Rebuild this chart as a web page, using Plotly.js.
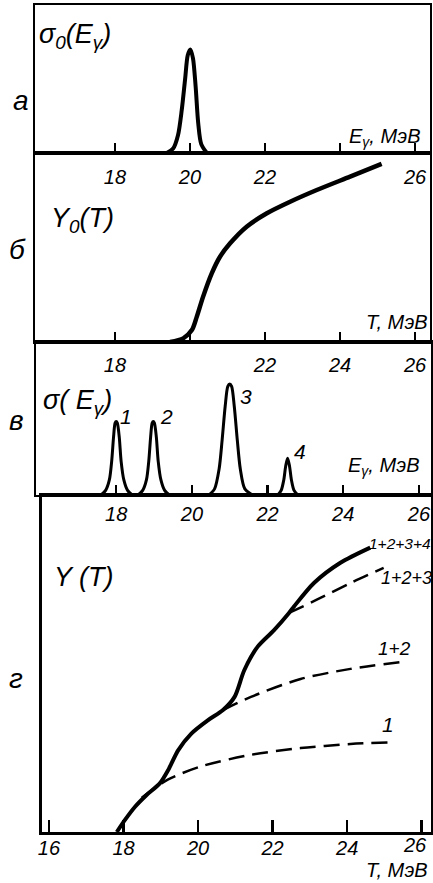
<!DOCTYPE html>
<html><head><meta charset="utf-8">
<script src="https://cdn.plot.ly/plotly-3.0.1.min.js"></script>
<style>html,body{margin:0;padding:0;background:#fff;overflow:hidden}</style>
</head><body><div id="chart" style="width:433px;height:883px"></div>
<script>
// ---- data ----
// panel а: sigma0(E_gamma)
const aX = [19.38, 19.55, 19.68, 19.78, 19.87, 19.94, 20.01, 20.08, 20.15, 20.22, 20.3, 20.45];
const aY = [0, 0.03, 0.12, 0.29, 0.5, 0.66, 0.70, 0.64, 0.45, 0.2, 0.06, 0];
// panel б: Y0(T)
const bX = [19.47, 19.82, 20.05, 20.18, 20.35, 20.58, 20.8, 21.07, 21.51, 22.05, 22.67, 23.38, 24.27, 25.11];
const bY = [0, 0.019, 0.063, 0.133, 0.24, 0.363, 0.451, 0.522, 0.61, 0.681, 0.742, 0.804, 0.875, 0.942];
// panel в: sigma(E_gamma), four levels
const c1X = [17.6, 17.72, 17.82, 17.88, 17.93, 17.97, 18.0, 18.03, 18.08, 18.13, 18.2, 18.3, 18.42];
const c1Y = [0, 0.03, 0.1, 0.22, 0.38, 0.47, 0.48, 0.47, 0.38, 0.22, 0.1, 0.03, 0];
const c2X = [18.58, 18.7, 18.8, 18.86, 18.91, 18.95, 18.98, 19.01, 19.06, 19.11, 19.18, 19.28, 19.4];
const c2Y = [0, 0.03, 0.1, 0.22, 0.38, 0.47, 0.48, 0.47, 0.38, 0.22, 0.1, 0.03, 0];
const c3X = [20.45, 20.6, 20.72, 20.8, 20.88, 20.95, 21.0, 21.05, 21.12, 21.2, 21.28, 21.4, 21.6];
const c3Y = [0, 0.04, 0.17, 0.36, 0.58, 0.71, 0.725, 0.71, 0.58, 0.36, 0.17, 0.04, 0];
const c4X = [22.27, 22.36, 22.43, 22.48, 22.53, 22.58, 22.63, 22.7, 22.8];
const c4Y = [0, 0.03, 0.1, 0.19, 0.24, 0.19, 0.1, 0.03, 0];
// panel г: Y(T)
const dSumX = [17.82, 18.04, 18.31, 18.62, 18.98, 19.2, 19.47, 19.82, 20.27, 20.67, 20.98, 21.24, 21.6, 22.04, 22.44, 22.58, 23.11, 23.82, 24.62];
const dSumY = [0, 0.036, 0.075, 0.11, 0.145, 0.184, 0.243, 0.292, 0.332, 0.362, 0.401, 0.48, 0.55, 0.599, 0.65, 0.67, 0.739, 0.799, 0.844];
const d123X = [22.44, 23.2, 24.09, 24.98];
const d123Y = [0.65, 0.69, 0.739, 0.784];
const d12X = [20.67, 21.42, 22.75, 24.09, 25.42];
const d12Y = [0.362, 0.401, 0.454, 0.484, 0.504];
const d1X = [18.49, 19.2, 20.09, 21.42, 22.75, 24.09, 25.11];
const d1Y = [0.102, 0.156, 0.195, 0.229, 0.249, 0.261, 0.266];
const tickVals = [18, 20, 22, 24, 26];
const aTickText = ['18', '20', '22', '', '26'];
const bTickText = ['18', '', '22', '24', '26'];
const cTickText = ['18', '20', '22', '24', '26'];
const dTickVals = [16, 18, 20, 22, 24, 26];
const dTickText = ['16', '18', '20', '22', '24', ''];
const curveLabels = ['1', '2', '3', '4'];
const sumLabels = ['1+2+3+4', '1+2+3', '1+2', '1'];

// ---- drawing ----
const FF = 'Liberation Sans, Arial, sans-serif';
const INK = '#000';
const W = 433, H = 883;
const px = v => v / W, py = v => 1 - v / H;

function line(x, y, xa, ya, w, dash) {
  return {x: x, y: y, xaxis: xa, yaxis: ya, type: 'scatter', mode: 'lines',
    line: {color: INK, width: w, shape: 'spline', smoothing: 0.8, dash: dash || 'solid'},
    hoverinfo: 'skip', showlegend: false};
}
const traces = [
  line(aX, aY, 'x', 'y', 4),
  line(bX, bY, 'x2', 'y2', 4.5),
  line(c1X, c1Y, 'x3', 'y3', 3),
  line(c2X, c2Y, 'x3', 'y3', 3),
  line(c3X, c3Y, 'x3', 'y3', 3),
  line(c4X, c4Y, 'x3', 'y3', 3),
  line(dSumX, dSumY, 'x4', 'y4', 4),
  line(d123X, d123Y, 'x4', 'y4', 2.5, '16px,8px'),
  line(d12X, d12Y, 'x4', 'y4', 2.5, '16px,8px'),
  line(d1X, d1Y, 'x4', 'y4', 2.5, '16px,8px')
];

function xax(dom, rng, anchor, vals, text, standoff, lw, tlen) {
  const o = {domain: dom, range: rng, anchor: anchor, showline: true, mirror: true,
    linecolor: INK, linewidth: lw || 2, ticks: 'inside', ticklen: tlen || 10, tickwidth: 2.5, tickcolor: INK,
    tickmode: 'array', tickvals: vals, ticktext: text,
    tickfont: {family: FF, size: 20, color: INK, style: 'italic'},
    showgrid: false, zeroline: false, fixedrange: true};
  if (standoff) o.ticklabelstandoff = standoff;
  return o;
}
function yax(dom, anchor, lw) {
  return {domain: dom, range: [0, 1], anchor: anchor, showline: true, mirror: true,
    linecolor: INK, linewidth: lw || 2, ticks: '', showticklabels: false,
    showgrid: false, zeroline: false, fixedrange: true};
}

function ann(text, x, y, size, xanchor) {
  return {text: text, x: px(x), y: py(y), xref: 'paper', yref: 'paper',
    xanchor: xanchor || 'center', yanchor: 'middle', showarrow: false,
    font: {family: FF, size: size, color: INK, style: 'italic'}};
}

const annotations = [
  ann('σ<sub>0</sub>(E<sub>γ</sub>)', 37, 36, 27, 'left'),
  ann('Y<sub>0</sub>(T)', 49, 220, 27, 'left'),
  ann('σ( E<sub>γ</sub>)', 41, 402, 27, 'left'),
  ann('Y (T)', 52, 577, 27, 'left'),
  ann('E<sub>γ</sub>, МэВ', 423, 137, 20, 'right'),
  ann('T, МэВ', 430, 870, 20, 'right'),
  ann('E<sub>γ</sub>, МэВ', 422, 466, 20, 'right'),
  ann('T, МэВ', 430, 322, 20, 'right'),
  ann('26', 429, 845, 20, 'right'),
  ann('а', 21, 100, 28),
  ann('б', 17, 250, 28),
  ann('в', 16, 420, 28),
  ann('г', 16, 678, 28),
  ann(curveLabels[0], 126, 416, 21),
  ann(curveLabels[1], 166, 416, 21),
  ann(curveLabels[2], 246, 397, 21),
  ann(curveLabels[3], 300, 451, 21),
  ann(sumLabels[0], 367, 543, 15.5, 'left'),
  ann(sumLabels[1], 379, 578, 18, 'left'),
  ann(sumLabels[2], 376, 648, 19, 'left'),
  ann(sumLabels[3], 388, 724, 21)
];

const layout = {
  width: W, height: H, margin: {l: 0, r: 0, t: 0, b: 0},
  paper_bgcolor: '#fff', plot_bgcolor: '#fff', showlegend: false,
  xaxis: xax([px(35), px(430)], [15.867, 26.4], 'y', tickVals, aTickText, 5),
  yaxis: yax([py(153), py(5)], 'x'),
  xaxis2: xax([px(35), px(430)], [15.867, 26.4], 'y2', tickVals, bTickText, 4),
  yaxis2: yax([py(342), py(153)], 'x2'),
  xaxis3: xax([px(36), px(431)], [15.88, 26.32], 'y3', tickVals, cTickText, 0),
  yaxis3: yax([py(495), py(342)], 'x3'),
  xaxis4: xax([px(41.5), px(431)], [15.8, 26.25], 'y4', dTickVals, dTickText, -4, 2.5, 12),
  yaxis4: yax([py(832), py(495)], 'x4', 2.5),
  annotations: annotations
};
Plotly.newPlot('chart', traces, layout, {staticPlot: true, displayModeBar: false});
</script></body></html>
